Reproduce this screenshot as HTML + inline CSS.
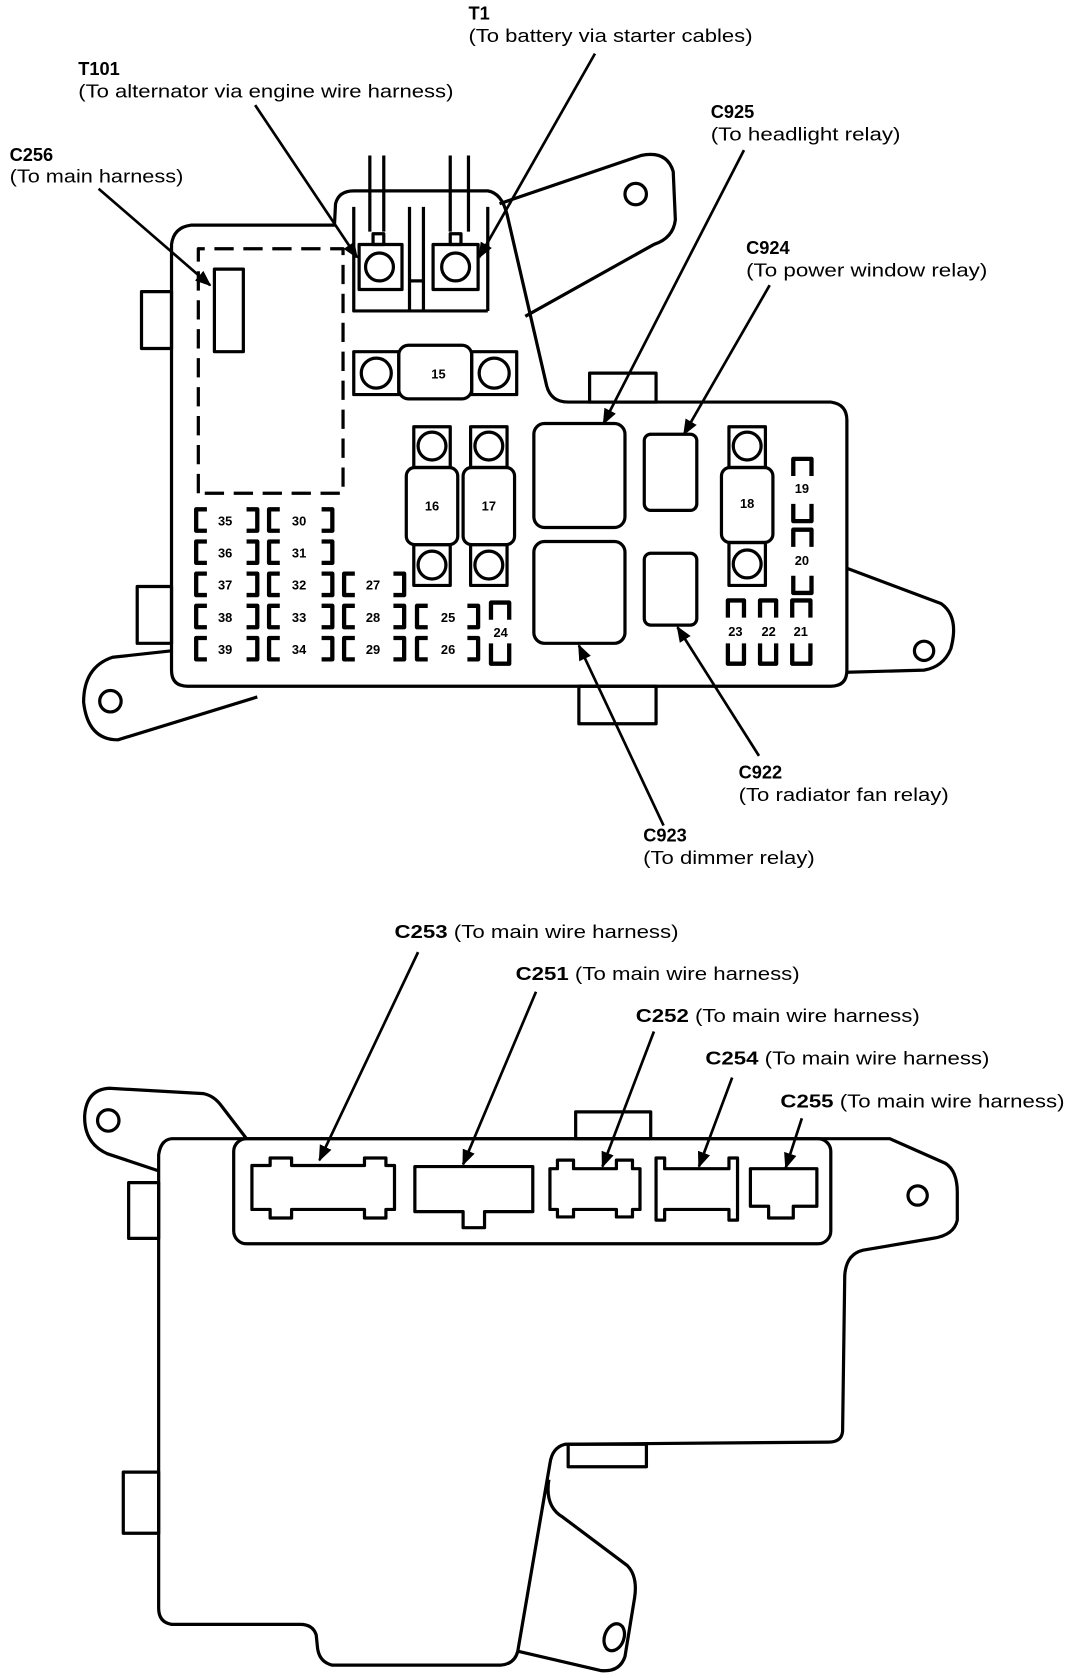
<!DOCTYPE html>
<html><head><meta charset="utf-8"><style>
html,body{margin:0;padding:0;background:#fff;}
svg{display:block;}
text{font-family:"Liberation Sans",sans-serif;fill:#000;}
.b{font-weight:bold;font-size:17px;}
.r{font-size:17px;}
.n{font-size:12px;font-weight:bold;text-anchor:middle;}
</style></head><body>
<svg width="1072" height="1678" viewBox="0 0 1000 1565" preserveAspectRatio="none" xmlns="http://www.w3.org/2000/svg">
<defs><marker id="a" viewBox="0 0 10 10" refX="9" refY="5" markerWidth="6" markerHeight="6" orient="auto"><path d="M0,1 L10,5 L0,9 z" fill="#000"/></marker></defs>
<g fill="none" stroke="#000" stroke-width="3" stroke-linejoin="round">
<!-- TOP DIAGRAM -->
<!-- ears -->
<path d="M160,607 L105,613 Q78,622 78,655 Q82,690 110,690 L240,650"/>
<circle cx="103" cy="654" r="10"/>
<path d="M790,530 L878,563 Q895,575 887,605 Q880,622 862,625 L790,627"/>
<circle cx="862" cy="607" r="9"/>
<path d="M466,190 L598,145 Q622,140 628,160 L630,205 Q628,222 610,228 L490,295"/>
<circle cx="593" cy="181" r="10"/>
<!-- main body -->
<path d="M178,210 L312,210 L313,190 Q316,178 330,178 L455,178 Q468,180 473,200 L510,360 Q514,375 530,375 L775,375 Q790,377 790,392 L790,625 Q790,640 775,640 L175,640 Q160,640 160,625 L160,228 Q162,212 178,210 Z"/>
<rect x="132" y="272" width="28" height="53"/>
<rect x="128" y="547" width="32" height="53"/>
<rect x="550" y="348" width="62" height="27"/>
<rect x="540" y="640" width="72" height="35"/>
<!-- cables -->
<path d="M345,145 V216 M358,145 V216 M420,145 V216 M437,145 V216"/>
<path d="M330,193 V290 H455 M330,290 M382,193 V290 M395,193 V290 M455,193 V290 M382,262 H395"/>
<rect x="335" y="228" width="40" height="42"/>
<circle cx="354" cy="249" r="13"/>
<rect x="404" y="228" width="42" height="42"/>
<circle cx="425" cy="249" r="13"/>
<rect x="348" y="218" width="10" height="10"/><rect x="420" y="218" width="10" height="10"/>
<!-- dashed box -->
<path d="M185,460 V232 H320 V460 H185" stroke-dasharray="18,9"/>
<rect x="200" y="251" width="27" height="77"/>
<!-- fuse 15 -->
<rect x="330" y="328" width="42" height="40"/><circle cx="351" cy="348" r="14"/>
<rect x="440" y="328" width="42" height="40"/><circle cx="461" cy="348" r="14"/>
<rect x="372" y="322" width="68" height="50" rx="9"/>
<!-- fuses 16 17 -->
<rect x="386" y="398" width="34" height="38"/><circle cx="403" cy="416" r="13"/>
<rect x="386" y="508" width="34" height="38"/><circle cx="403" cy="527" r="13"/>
<rect x="379" y="436" width="48" height="72" rx="8"/>
<rect x="439" y="398" width="34" height="38"/><circle cx="456" cy="416" r="13"/>
<rect x="439" y="508" width="34" height="38"/><circle cx="456" cy="527" r="13"/>
<rect x="432" y="436" width="48" height="72" rx="8"/>
<!-- fuse 18 -->
<rect x="680" y="398" width="34" height="38"/><circle cx="697" cy="416" r="13"/>
<rect x="680" y="506" width="34" height="40"/><circle cx="697" cy="526" r="13"/>
<rect x="673" y="436" width="48" height="70" rx="8"/>
<!-- relays -->
<rect x="498" y="395" width="85" height="97" rx="10"/>
<rect x="498" y="505" width="85" height="95" rx="10"/>
<rect x="601" y="405" width="49" height="71" rx="6"/>
<rect x="601" y="516" width="49" height="67" rx="6"/>
<!-- small fuse brackets -->
<g stroke-width="4">
<path d="M193,475 h-10 v20 h10 M230,475 h10 v20 h-10 M261,475 h-10 v20 h10 M300,475 h10 v20 h-10"/>
<path d="M193,505 h-10 v20 h10 M230,505 h10 v20 h-10 M261,505 h-10 v20 h10 M300,505 h10 v20 h-10"/>
<path d="M193,535 h-10 v20 h10 M230,535 h10 v20 h-10 M261,535 h-10 v20 h10 M300,535 h10 v20 h-10 M331,535 h-10 v20 h10 M367,535 h10 v20 h-10"/>
<path d="M193,565 h-10 v20 h10 M230,565 h10 v20 h-10 M261,565 h-10 v20 h10 M300,565 h10 v20 h-10 M331,565 h-10 v20 h10 M367,565 h10 v20 h-10 M399,565 h-10 v20 h10 M436,565 h10 v20 h-10"/>
<path d="M193,595 h-10 v20 h10 M230,595 h10 v20 h-10 M261,595 h-10 v20 h10 M300,595 h10 v20 h-10 M331,595 h-10 v20 h10 M367,595 h10 v20 h-10 M399,595 h-10 v20 h10 M436,595 h10 v20 h-10"/>
<path d="M458,578 v-16 h17 v16 M458,600 v19 h17 v-19"/>
<path d="M740,444 v-16 h17 v16 M740,470 v16 h17 v-16 M740,510 v-16 h17 v16 M740,537 v16 h17 v-16"/>
<path d="M679,576 v-16 h15 v16 M709,576 v-16 h15 v16 M739,576 v-16 h17 v16 M679,600 v19 h15 v-19 M709,600 v19 h15 v-19 M739,600 v19 h17 v-19"/>
</g>
<!-- BOTTOM DIAGRAM -->
<path d="M148,1092 L100,1076 Q78,1066 79,1040 Q81,1016 102,1015 L190,1020 Q200,1022 207,1032 L230,1062"/>
<circle cx="101" cy="1045" r="10"/>
<path d="M160,1062 L830,1062 L882,1085 Q893,1092 893,1112 L893,1138 Q890,1152 870,1155 L805,1166 Q789,1170 788,1190 L786,1335 Q785,1345 773,1345 L527,1347 Q515,1350 513,1365 L483,1540 Q480,1552 467,1553 L310,1553 Q297,1550 296,1535 L295,1525 Q292,1515 280,1515 L160,1515 Q148,1513 148,1500 L148,1077 Q150,1063 160,1062 Z"/>
<path d="M512,1380 Q508,1405 525,1415 L585,1460 Q595,1470 592,1490 L583,1545 Q578,1560 560,1558 L483,1540"/>
<ellipse cx="573" cy="1527" rx="9" ry="13" transform="rotate(20 573 1527)"/>
<rect x="120" y="1103" width="28" height="52"/>
<rect x="115" y="1373" width="33" height="57"/>
<rect x="537" y="1037" width="70" height="25"/>
<rect x="530" y="1347" width="73" height="21"/>
<circle cx="856" cy="1115" r="9"/>
<rect x="218" y="1062" width="557" height="98" rx="12"/>
<path d="M235,1087 H252 V1080 H272 V1087 H340 V1080 H360 V1087 H368 V1128 H360 V1136 H340 V1128 H272 V1136 H252 V1128 H235 Z"/>
<path d="M387,1088 H497 V1130 H452 V1145 H432 V1130 H387 Z"/>
<path d="M513,1090 H520 V1082 H535 V1090 H575 V1082 H590 V1090 H597 V1128 H590 V1135 H575 V1128 H535 V1135 H520 V1128 H513 Z"/>
<path d="M612,1080 H620 V1090 H680 V1080 H688 V1138 H680 V1128 H620 V1138 H612 Z"/>
<path d="M700,1090 H762 V1125 H740 V1136 H717 V1125 H700 Z"/>
</g>
<!-- leaders -->
<g stroke="#000" stroke-width="2.5" fill="none" marker-end="url(#a)">
<line x1="92" y1="176" x2="196" y2="266"/>
<line x1="238" y1="98" x2="333" y2="240"/>
<line x1="555" y1="50" x2="447" y2="240"/>
<line x1="694" y1="140" x2="563" y2="395"/>
<line x1="718" y1="266" x2="638" y2="405"/>
<line x1="708" y1="705" x2="632" y2="585"/>
<line x1="619" y1="770" x2="540" y2="602"/>
<line x1="390" y1="888" x2="298" y2="1082"/>
<line x1="500" y1="925" x2="432" y2="1086"/>
<line x1="610" y1="962" x2="562" y2="1088"/>
<line x1="683" y1="1005" x2="652" y2="1088"/>
<line x1="748" y1="1043" x2="733" y2="1089"/>
</g>
<!-- labels -->
<text class="b" x="437" y="18">T1</text>
<text class="r" x="437" y="39" textLength="265" lengthAdjust="spacingAndGlyphs">(To battery via starter cables)</text>
<text class="b" x="73" y="70">T101</text>
<text class="r" x="73" y="91" textLength="350" lengthAdjust="spacingAndGlyphs">(To alternator via engine wire harness)</text>
<text class="b" x="9" y="150">C256</text>
<text class="r" x="9" y="170" textLength="162" lengthAdjust="spacingAndGlyphs">(To main harness)</text>
<text class="b" x="663" y="110">C925</text>
<text class="r" x="663" y="131" textLength="177" lengthAdjust="spacingAndGlyphs">(To headlight relay)</text>
<text class="b" x="696" y="237">C924</text>
<text class="r" x="696" y="258" textLength="225" lengthAdjust="spacingAndGlyphs">(To power window relay)</text>
<text class="b" x="689" y="726">C922</text>
<text class="r" x="689" y="747" textLength="196" lengthAdjust="spacingAndGlyphs">(To radiator fan relay)</text>
<text class="b" x="600" y="785">C923</text>
<text class="r" x="600" y="806" textLength="160" lengthAdjust="spacingAndGlyphs">(To dimmer relay)</text>
<text class="r" x="368" y="875" textLength="265" lengthAdjust="spacingAndGlyphs"><tspan font-weight="bold">C253</tspan> (To main wire harness)</text>
<text class="r" x="481" y="914" textLength="265" lengthAdjust="spacingAndGlyphs"><tspan font-weight="bold">C251</tspan> (To main wire harness)</text>
<text class="r" x="593" y="953" textLength="265" lengthAdjust="spacingAndGlyphs"><tspan font-weight="bold">C252</tspan> (To main wire harness)</text>
<text class="r" x="658" y="993" textLength="265" lengthAdjust="spacingAndGlyphs"><tspan font-weight="bold">C254</tspan> (To main wire harness)</text>
<text class="r" x="728" y="1033" textLength="265" lengthAdjust="spacingAndGlyphs"><tspan font-weight="bold">C255</tspan> (To main wire harness)</text>
<!-- fuse numbers -->
<text class="n" x="409" y="353">15</text>
<text class="n" x="403" y="476">16</text>
<text class="n" x="456" y="476">17</text>
<text class="n" x="697" y="474">18</text>
<text class="n" x="748" y="460">19</text>
<text class="n" x="748" y="527">20</text>
<text class="n" x="747" y="593">21</text>
<text class="n" x="717" y="593">22</text>
<text class="n" x="686" y="593">23</text>
<text class="n" x="467" y="594">24</text>
<text class="n" x="418" y="580">25</text>
<text class="n" x="418" y="610">26</text>
<text class="n" x="348" y="550">27</text>
<text class="n" x="348" y="580">28</text>
<text class="n" x="348" y="610">29</text>
<text class="n" x="279" y="490">30</text>
<text class="n" x="279" y="520">31</text>
<text class="n" x="279" y="550">32</text>
<text class="n" x="279" y="580">33</text>
<text class="n" x="279" y="610">34</text>
<text class="n" x="210" y="490">35</text>
<text class="n" x="210" y="520">36</text>
<text class="n" x="210" y="550">37</text>
<text class="n" x="210" y="580">38</text>
<text class="n" x="210" y="610">39</text>
</svg>
</body></html>
